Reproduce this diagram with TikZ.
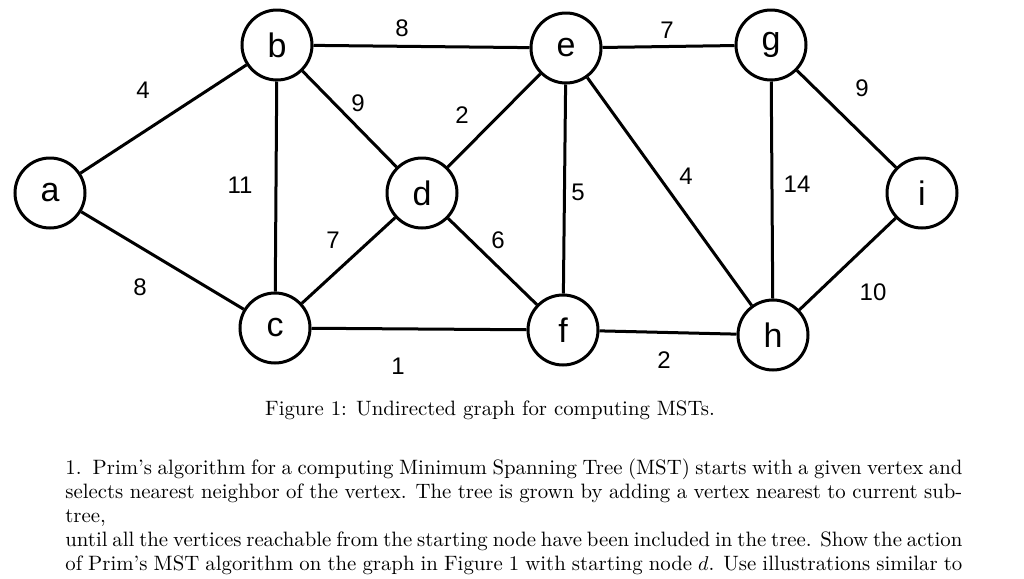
\documentclass[tikz,border=0pt]{standalone}
\usepackage{fontspec}
\newfontfamily\sans{Liberation Sans}
\begin{document}
\begin{tikzpicture}[x=0.5pt,y=-0.5pt,
  v/.style={circle,draw,line width=1.5pt,minimum size=35pt,inner sep=0pt,font=\sans\fontsize{17}{17}\selectfont},
  e/.style={line width=1.5pt},
  w/.style={font=\sans\fontsize{12}{12}\selectfont,inner sep=0pt}]
\useasboundingbox (0,0) rectangle (1024,579);
\node[v] (a) at (50,193) {a};
\node[v] (b) at (277,45) {b};
\node[v] (c) at (275,328) {c};
\node[v] (d) at (422,193) {d};
\node[v] (e) at (566,48) {e};
\node[v] (f) at (563,330) {f};
\node[v] (g) at (771,45) {g};
\node[v] (h) at (773,335) {h};
\node[v] (i) at (922,193) {i};
\draw[e] (a)--(b); \draw[e] (a)--(c); \draw[e] (b)--(e); \draw[e] (b)--(c);
\draw[e] (b)--(d); \draw[e] (c)--(d); \draw[e] (c)--(f); \draw[e] (d)--(e);
\draw[e] (d)--(f); \draw[e] (e)--(f); \draw[e] (e)--(g); \draw[e] (e)--(h);
\draw[e] (f)--(h); \draw[e] (g)--(h); \draw[e] (g)--(i); \draw[e] (h)--(i);
\node[w] (w1) at (143,90) {4};
\node[w] (w2) at (402,28) {8};
\node[w] (w3) at (667,30) {7};
\node[w] (w4) at (862,88) {9};
\node[w] (w5) at (358,103) {9};
\node[w] (w6) at (462,115) {2};
\node[w] (w7) at (240,185) {11};
\node[w] (w8) at (578,192) {5};
\node[w] (w9) at (686,176) {4};
\node[w] (w10) at (797,184) {14};
\node[w] (w11) at (333,240) {7};
\node[w] (w12) at (498,240) {6};
\node[w] (w13) at (140,287) {8};
\node[w] (w14) at (873,292) {10};
\node[w] (w15) at (398,366) {1};
\node[w] (w16) at (664,360) {2};
\node[font=\fontsize{10.4}{12}\selectfont] (cap) at (490,410) {Figure 1: Undirected graph for computing MSTs.};
\node[anchor=north west,text width=448.5pt,align=justify,font=\fontsize{10.4}{12}\selectfont,inner sep=0pt] (txt) at (65,458)
{1.\ \ Prim's algorithm for a computing Minimum Spanning Tree (MST) starts with a given vertex and\linebreak selects nearest neighbor of the vertex. The tree is grown by adding a vertex nearest to current subtree,\linebreak until all the vertices reachable from the starting node have been included in the tree. Show the action\linebreak of Prim's MST algorithm on the graph in Figure 1 with starting node $d$. Use illustrations similar to\linebreak the book.};
\end{tikzpicture}
\end{document}
